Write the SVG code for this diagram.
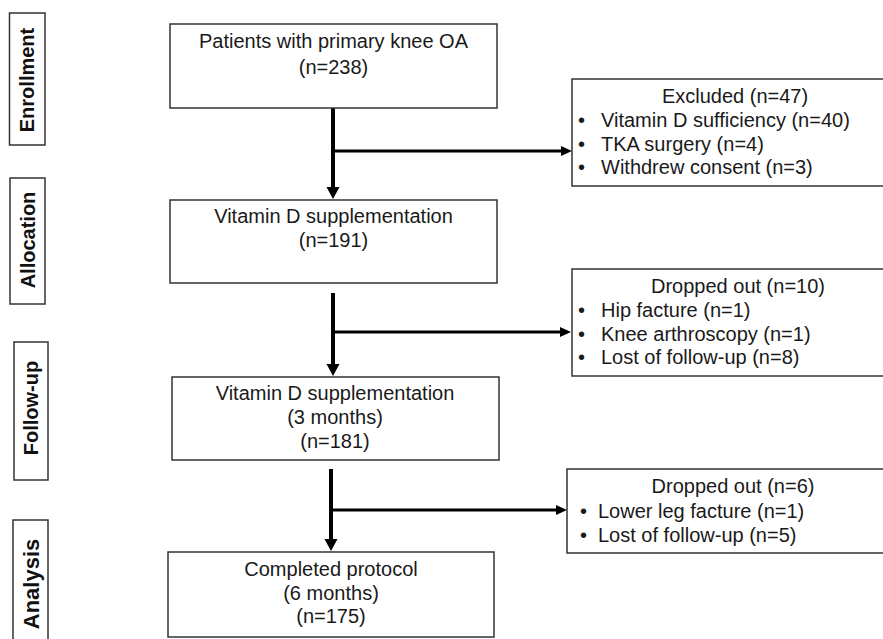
<svg xmlns="http://www.w3.org/2000/svg" width="883" height="639" viewBox="0 0 883 639">
<defs>
<style>
.box{fill:#fff;stroke:#333;stroke-width:1.5}
.t{font-family:"Liberation Sans",Arial,sans-serif;font-size:20px;fill:#1a1a1a}
.c{text-anchor:middle}
.lab{font-family:"Liberation Sans",Arial,sans-serif;font-size:20px;font-weight:bold;fill:#111;text-anchor:middle}
.v{stroke:#000;stroke-width:4;fill:none}
.h{stroke:#000;stroke-width:3;fill:none}
</style>
<marker id="ahV" markerUnits="userSpaceOnUse" viewBox="0 -7 12 14" markerWidth="12" markerHeight="14" refX="1" refY="0" orient="auto">
<path d="M0,-6.5 L12,0 L0,6.5 z" fill="#000"/>
</marker>
<marker id="ahH" markerUnits="userSpaceOnUse" viewBox="0 -6 11 12" markerWidth="11" markerHeight="12" refX="1" refY="0" orient="auto">
<path d="M0,-5 L11,0 L0,5 z" fill="#000"/>
</marker>
</defs>
<rect width="883" height="639" fill="#fff"/>

<g id="stage-enrollment">
<rect class="box" x="9.5" y="13" width="35.5" height="132"/>
<text class="lab" transform="translate(27,80) rotate(-90)" y="7">Enrollment</text>
</g>
<g id="stage-allocation">
<rect class="box" x="10" y="178" width="35" height="126"/>
<text class="lab" transform="translate(27.5,240) rotate(-90)" y="7">Allocation</text>
</g>
<g id="stage-followup">
<rect class="box" x="14" y="342" width="34" height="138"/>
<text class="lab" transform="translate(31,408) rotate(-90)" y="7">Follow-up</text>
</g>
<g id="stage-analysis">
<rect class="box" x="13" y="520" width="35" height="130"/>
<text class="lab" style="font-size:22px" transform="translate(30.5,584) rotate(-90)" y="8">Analysis</text>
</g>

<g id="connectors">
<line class="v" x1="333" y1="108" x2="333" y2="188" marker-end="url(#ahV)"/>
<line class="h" x1="333" y1="151" x2="562" y2="151" marker-end="url(#ahH)"/>
<line class="v" x1="333" y1="293" x2="333" y2="365" marker-end="url(#ahV)"/>
<line class="h" x1="333" y1="332" x2="561" y2="332" marker-end="url(#ahH)"/>
<line class="v" x1="331" y1="469" x2="331" y2="540" marker-end="url(#ahV)"/>
<line class="h" x1="331" y1="510" x2="557" y2="510" marker-end="url(#ahH)"/>
</g>

<g id="patients">
<rect class="box" x="170" y="24" width="327" height="84"/>
<text class="t c" x="333.5" y="48">Patients with primary knee OA</text>
<text class="t c" x="333.5" y="74">(n=238)</text>
</g>
<g id="allocated">
<rect class="box" x="170" y="200" width="327" height="83"/>
<text class="t c" x="333.5" y="223">Vitamin D supplementation</text>
<text class="t c" x="333.5" y="247">(n=191)</text>
</g>
<g id="followup">
<rect class="box" x="172" y="377" width="327" height="83"/>
<text class="t c" x="335" y="400">Vitamin D supplementation</text>
<text class="t c" x="335" y="424">(3 months)</text>
<text class="t c" x="335" y="448">(n=181)</text>
</g>
<g id="completed">
<rect class="box" x="168" y="552" width="326" height="85"/>
<text class="t c" x="331" y="576">Completed protocol</text>
<text class="t c" x="331" y="600">(6 months)</text>
<text class="t c" x="331" y="623">(n=175)</text>
</g>

<g id="excluded">
<rect class="box" x="572" y="79" width="320" height="107"/>
<text class="t c" x="735" y="103">Excluded (n=47)</text>
<text class="t" x="578" y="127">•</text><text class="t" x="601" y="127">Vitamin D sufficiency (n=40)</text>
<text class="t" x="578" y="151">•</text><text class="t" x="601" y="151">TKA surgery (n=4)</text>
<text class="t" x="578" y="174">•</text><text class="t" x="601" y="174">Withdrew consent (n=3)</text>
</g>
<g id="dropout1">
<rect class="box" x="572" y="269" width="320" height="107"/>
<text class="t c" x="738" y="293">Dropped out (n=10)</text>
<text class="t" x="578" y="317">•</text><text class="t" x="601" y="317">Hip facture (n=1)</text>
<text class="t" x="578" y="341">•</text><text class="t" x="601" y="341">Knee arthroscopy (n=1)</text>
<text class="t" x="578" y="364">•</text><text class="t" x="601" y="364">Lost of follow-up (n=8)</text>
</g>
<g id="dropout2">
<rect class="box" x="567" y="469" width="325" height="84"/>
<text class="t c" x="733" y="493">Dropped out (n=6)</text>
<text class="t" x="580" y="518">•</text><text class="t" x="598" y="518">Lower leg facture (n=1)</text>
<text class="t" x="580" y="542">•</text><text class="t" x="598" y="542">Lost of follow-up (n=5)</text>
</g>
</svg>
